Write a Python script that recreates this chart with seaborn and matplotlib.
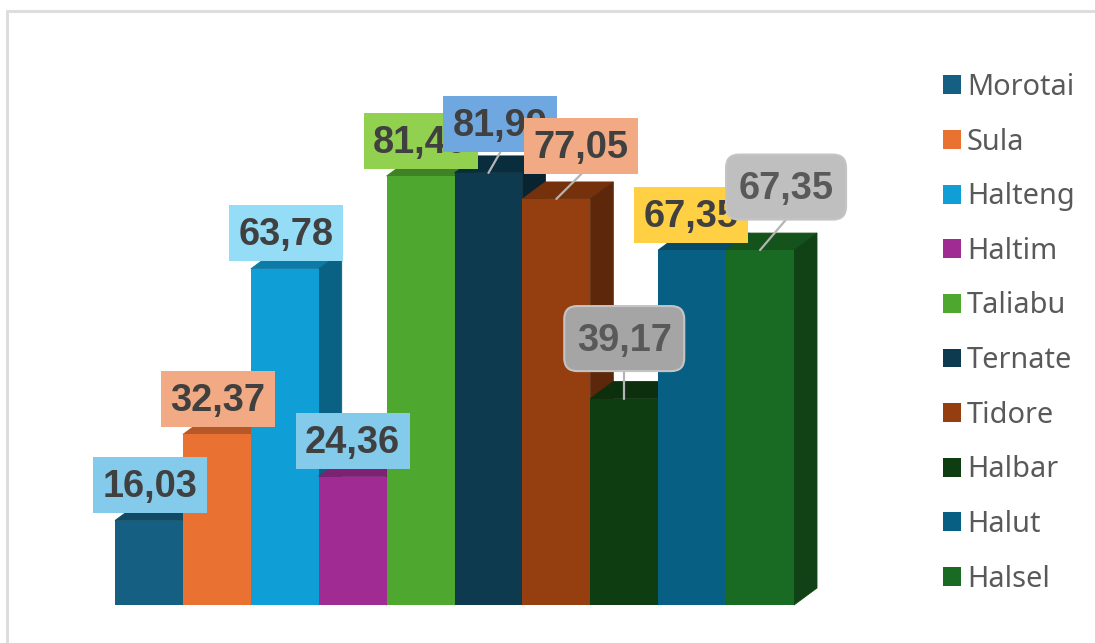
import matplotlib
matplotlib.use('Agg')
import pandas as pd
import matplotlib.pyplot as plt
import seaborn as sns
from matplotlib.colors import to_rgb
from matplotlib.lines import Line2D
from matplotlib.patches import FancyBboxPatch, Patch, Polygon
from matplotlib.transforms import IdentityTransform

# data
wilayah = ['Morotai', 'Sula', 'Halteng', 'Haltim', 'Taliabu',
           'Ternate', 'Tidore', 'Halbar', 'Halut', 'Halsel']
nilai = [16.03, 32.37, 63.78, 24.36, 81.40, 81.99, 77.05, 39.17, 67.35, 67.35]
warna = ['#156082', '#E97132', '#0F9ED5', '#A02B93', '#4EA72E',
         '#0D3A4E', '#953F10', '#0F3D12', '#076084', '#196B24']

# label boxes
warna_label = ['#83CAEB', '#F2AA84', '#95DCF7', '#83CAEB', '#92D050',
               '#6FA8E0', '#F2AA84', '#A5A5A5', '#FFD044', '#BFBFBF']
warna_teks = ['#404040'] * 7 + ['#595959', '#404040', '#595959']
bulat = [False] * 7 + [True, False, True]
geser_x = [1, 1, 1, 0, 0, 12, 25, 0, -1, 26]       # px from bar top
geser_y = [35.5, 35.5, 36, 35.5, 35, 49, 53, 60, 35.5, 63]

LEBAR_PX, TINGGI_PX = 1095, 643
DALAM_X, DALAM_Y = 23, 17   # 3d depth in px


def gelap(warna_dasar, faktor):
    return tuple(c * faktor for c in to_rgb(warna_dasar))


sns.set_style('white')
plt.rcParams['font.family'] = ['Noto Sans', 'DejaVu Sans']

df = pd.DataFrame({'wilayah': wilayah, 'nilai': nilai})

fig = plt.figure(figsize=(LEBAR_PX / 100, TINGGI_PX / 100), dpi=100)
ax = fig.add_axes([115 / LEBAR_PX, 38 / TINGGI_PX, 679 / LEBAR_PX, 527 / TINGGI_PX])
sns.barplot(data=df, x='wilayah', y='nilai', hue='wilayah', palette=warna,
            width=1, dodge=False, saturation=1, legend=False, ax=ax)
ax.set_xlim(-0.5, 9.5)
ax.set_ylim(0, 100)
ax.axis('off')

dx = DALAM_X / 67.9
dy = DALAM_Y / 5.27
batang = sorted(ax.patches, key=lambda p: p.get_x())

# top and side faces, each next front face covers them
for i, (p, w) in enumerate(zip(batang, warna)):
    x0, x1, h = p.get_x(), p.get_x() + p.get_width(), p.get_height()
    p.set_zorder(3 + i + 0.5)
    p.set_edgecolor('none')
    warna_atas = gelap(w, 0.78)
    warna_sisi = gelap(w, 0.62)
    atas = Polygon([(x0, h), (x0 + dx, h + dy), (x1 + dx, h + dy), (x1, h)],
                   facecolor=warna_atas, edgecolor=warna_atas, lw=0.6, zorder=3 + i, clip_on=False)
    sisi = Polygon([(x1, 0), (x1 + dx, dy), (x1 + dx, h + dy), (x1, h)],
                   facecolor=warna_sisi, edgecolor=warna_sisi, lw=0.6, zorder=3 + i, clip_on=False)
    ax.add_patch(atas)
    ax.add_patch(sisi)

# value labels
piksel = IdentityTransform()
for i, p in enumerate(batang):
    ax_x, ax_y = ax.transData.transform((p.get_x() + p.get_width() / 2, p.get_height()))
    cx, cy = ax_x + geser_x[i], ax_y + geser_y[i]
    lebar, tinggi = (120, 65) if bulat[i] else (114, 56)
    if geser_y[i] > 40:
        fig.add_artist(Line2D([ax_x, cx], [ax_y, cy - tinggi / 2], color='#B4B4B4', lw=1.6,
                              transform=piksel, zorder=5))
    gaya = 'round,pad=0,rounding_size=13' if bulat[i] else 'square,pad=0'
    kotak = FancyBboxPatch((cx - lebar / 2, cy - tinggi / 2), lebar, tinggi, boxstyle=gaya,
                           facecolor=warna_label[i], linewidth=1.5,
                           edgecolor='#C4C4C4' if bulat[i] else 'none',
                           transform=piksel, zorder=6 + i)
    fig.add_artist(kotak)
    teks = f'{nilai[i]:.2f}'.replace('.', ',')
    fig.text(cx, cy + 2, teks, transform=piksel, ha='center', va='center_baseline',
             fontsize=27.4, fontweight='bold', family='Liberation Sans',
             color=warna_teks[i], zorder=6 + i + 0.5)

# legend
tangan = [Patch(facecolor=w, edgecolor='none', label=n) for w, n in zip(warna, wilayah)]
leg = fig.legend(handles=tangan, loc='upper left',
                 bbox_to_anchor=(943 / LEBAR_PX, 1 - 73 / TINGGI_PX), frameon=False,
                 fontsize=20.8, labelcolor='#595959', handlelength=0.63, handleheight=0.63,
                 handletextpad=0.2, labelspacing=0.887, borderpad=0, borderaxespad=0)

# frame of the chart area, only top and left show
for xs, ys in [([7, 7], [0, 632]), ([7, 1095], [632, 632])]:
    fig.add_artist(Line2D(xs, ys, color='#DDDDDD', lw=2.2, transform=piksel, zorder=1))

plt.savefig('out.png', dpi=100)
